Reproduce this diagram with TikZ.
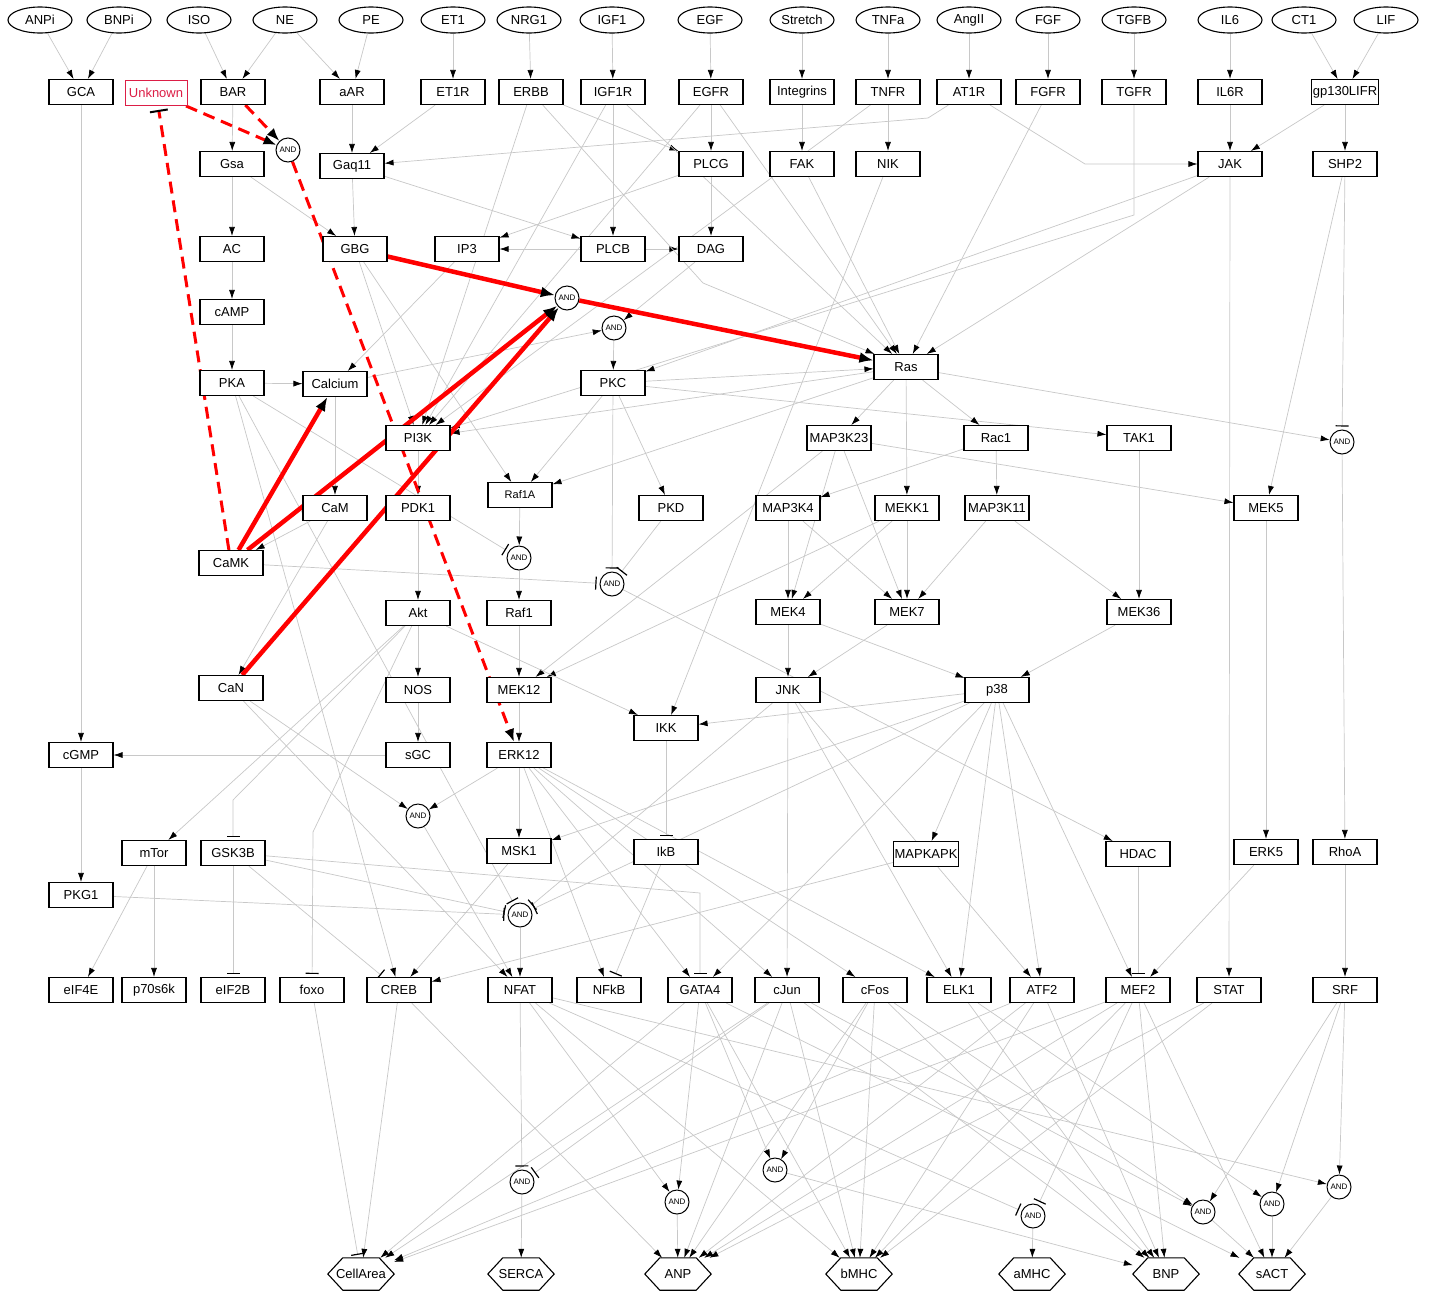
\documentclass[tikz,border=0pt]{standalone}
\usepackage{fontspec}
\setmainfont{Liberation Sans}
\usetikzlibrary{arrows.meta,shapes.geometric}
\definecolor{eg}{RGB}{200,200,200}
\definecolor{unk}{RGB}{220,30,70}
\pgfdeclarelayer{back}
\pgfdeclarelayer{edges}
\pgfsetlayers{back,edges,main}
\begin{document}
\begin{tikzpicture}[x=1pt,y=-1pt,
 lbl/.style={font=\fontsize{13}{14}\selectfont},
 box/.style={lbl,draw=black,line width=1.1pt,fill=white,minimum width=64pt,minimum height=25pt,inner sep=1pt},
 ell/.style={lbl,draw=black,ellipse,line width=1.1pt,fill=white,minimum width=64pt,minimum height=26pt,inner sep=0pt},
 andn/.style={draw=black,circle,line width=1pt,fill=white,minimum size=24pt,inner sep=0pt,font=\fontsize{8}{8}\selectfont},
 outn/.style={lbl,minimum width=66pt,minimum height=32pt,inner sep=0pt},
 e/.style={draw=eg,line width=0.7pt,-{Latex[color=black,length=9pt,width=6pt]}},
 ih/.style={draw=eg,line width=0.7pt,-{Bar[color=black,width=13pt,line width=1.2pt]},shorten >=3pt},
 rt/.style={draw=red,line width=4.5pt,-{Latex[color=black,length=14pt,width=11pt]}},
 rd/.style={draw=red,line width=3pt,dash pattern=on 12pt off 7pt,-{Latex[color=black,length=13pt,width=10pt]}},
 rdi/.style={draw=red,line width=3pt,dash pattern=on 12pt off 7pt,-{Bar[color=black,width=18pt,line width=2pt]},shorten >=4pt}
]
\useasboundingbox (0,0) rectangle (1429,1291);
\begin{pgfonlayer}{back}
\fill[white] (0,0) rectangle (1429,1291);
\end{pgfonlayer}
% inputs
\foreach \n/\x in {ANPi/40,BNPi/119,ISO/199,NE/285,PE/371,ET1/453,NRG1/529,IGF1/612,EGF/710,Stretch/802,TNFa/888,AngII/969,FGF/1048,TGFB/1134,IL6/1230,CT1/1304,LIF/1386}
 \node[ell] (\n) at (\x,20) {\n};
% receptors
\foreach \n/\x in {GCA/81,BAR/233,aAR/352,ET1R/453,ERBB/531,IGF1R/613,EGFR/711,Integrins/802,TNFR/888,AT1R/969,FGFR/1048,TGFR/1134,IL6R/1230,gp130LIFR/1345}
 \node[box] (\n) at (\x,92) {\n};
\node[box,draw=unk,text=unk,line width=0.9pt,minimum width=62pt] (Unknown) at (156,93) {Unknown};
% middle
\node[andn] (and1) at (288,150) {AND};
\node[box] (Gsa) at (232,164) {Gsa};
\node[box] (Gaq11) at (352,166) {Gaq11};
\node[box] (PLCG) at (711,164) {PLCG};
\node[box] (FAK) at (802,164) {FAK};
\node[box] (NIK) at (888,164) {NIK};
\node[box] (JAK) at (1230,164) {JAK};
\node[box] (SHP2) at (1345,164) {SHP2};
\node[box] (AC) at (232,249) {AC};
\node[box] (GBG) at (355,249) {GBG};
\node[box] (IP3) at (467,249) {IP3};
\node[box] (PLCB) at (613,249) {PLCB};
\node[box] (DAG) at (711,249) {DAG};
\node[andn] (and2) at (567,298) {AND};
\node[andn] (and3) at (614,328) {AND};
\node[box] (cAMP) at (232,312) {cAMP};
\node[box] (PKA) at (232,383) {PKA};
\node[box] (Calcium) at (335,384) {Calcium};
\node[box] (PKC) at (613,383) {PKC};
\node[box] (Ras) at (906,367) {Ras};
\node[box] (PI3K) at (418,438) {PI3K};
\node[box] (MAP3K23) at (839,438) {MAP3K23};
\node[box] (Rac1) at (996,438) {Rac1};
\node[box] (TAK1) at (1139,438) {TAK1};
\node[andn] (and4) at (1342,442) {AND};
\node[box,font=\fontsize{11}{12}\selectfont] (Raf1A) at (520,495) {Raf1A};
\node[box] (CaM) at (335,508) {CaM};
\node[box] (PDK1) at (418,508) {PDK1};
\node[box] (PKD) at (671,508) {PKD};
\node[box] (MAP3K4) at (788,508) {MAP3K4};
\node[box] (MEKK1) at (907,508) {MEKK1};
\node[box] (MAP3K11) at (997,508) {MAP3K11};
\node[box] (MEK5) at (1266,508) {MEK5};
\node[box] (CaMK) at (231,563) {CaMK};
\node[andn] (and5) at (519,558) {AND};
\node[andn] (and6) at (612,584) {AND};
\node[box] (Akt) at (418,613) {Akt};
\node[box] (Raf1) at (519,613) {Raf1};
\node[box] (MEK4) at (788,612) {MEK4};
\node[box] (MEK7) at (907,612) {MEK7};
\node[box] (MEK36) at (1139,612) {MEK36};
\node[box] (CaN) at (231,688) {CaN};
\node[box] (NOS) at (418,690) {NOS};
\node[box] (MEK12) at (519,690) {MEK12};
\node[box] (JNK) at (788,690) {JNK};
\node[box] (p38) at (997,690) {p38};
\node[box] (IKK) at (666,728) {IKK};
\node[box] (cGMP) at (81,755) {cGMP};
\node[box] (sGC) at (418,755) {sGC};
\node[box] (ERK12) at (519,755) {ERK12};
\node[andn] (and7) at (418,816) {AND};
\node[box] (mTor) at (154,853) {mTor};
\node[box] (GSK3B) at (233,853) {GSK3B};
\node[box] (MSK1) at (519,851) {MSK1};
\node[box] (IkB) at (666,852) {IkB};
\node[box] (MAPKAPK) at (926,854) {MAPKAPK};
\node[box] (HDAC) at (1138,854) {HDAC};
\node[box] (ERK5) at (1266,852) {ERK5};
\node[box] (RhoA) at (1345,852) {RhoA};
\node[box] (PKG1) at (81,895) {PKG1};
\node[andn] (and8) at (520,915) {AND};
% transcription row
\foreach \n/\x in {eIF4E/81,p70s6k/154,eIF2B/233,foxo/312,CREB/399,NFAT/520,NFkB/609,GATA4/700,cJun/787,cFos/875,ELK1/959,ATF2/1042,MEF2/1138,STAT/1229,SRF/1345}
 \node[box] (\n) at (\x,990) {\n};
\node[andn] (and9) at (522,1182) {AND};
\node[andn] (and10) at (677,1202) {AND};
\node[andn] (and11) at (775,1170) {AND};
\node[andn] (and12) at (1033,1216) {AND};
\node[andn] (and13) at (1203,1212) {AND};
\node[andn] (and14) at (1272,1204) {AND};
\node[andn] (and15) at (1339,1187) {AND};
% outputs
\foreach \n/\x in {CellArea/361,SERCA/521,ANP/678,bMHC/859,aMHC/1032,BNP/1166,sACT/1272}
 \node[outn] (\n) at (\x,1274) {\n};
\foreach \n in {CellArea,SERCA,ANP,bMHC,aMHC,BNP,sACT}
 \draw[line width=1.1pt] (\n.west) -- ([xshift=15pt]\n.north west) -- ([xshift=-15pt]\n.north east) -- (\n.east) -- ([xshift=-15pt]\n.south east) -- ([xshift=15pt]\n.south west) -- cycle;
% bend points
\coordinate (c1) at (928,118);
\coordinate (c2) at (1085,164);
\coordinate (c3) at (1134,215);
\coordinate (c4) at (703,283);
\coordinate (c5) at (233,800);
\coordinate (c6) at (313,832);
\coordinate (c7) at (700,893);
\begin{pgfonlayer}{edges}
\foreach \a/\b in {ANPi/GCA,BNPi/GCA,ISO/BAR,NE/BAR,NE/aAR,PE/aAR,ET1/ET1R,NRG1/ERBB,IGF1/IGF1R,EGF/EGFR,Stretch/Integrins,TNFa/TNFR,AngII/AT1R,FGF/FGFR,TGFB/TGFR,IL6/IL6R,CT1/gp130LIFR,LIF/gp130LIFR,
 GCA/cGMP,BAR/Gsa,aAR/Gaq11,ET1R/Gaq11,
 ERBB/PLCG,ERBB/PI3K,IGF1R/PLCB,IGF1R/PI3K,IGF1R/Ras,EGFR/PLCG,EGFR/PI3K,EGFR/Ras,
 Integrins/FAK,TNFR/NIK,TNFR/PI3K,FGFR/Ras,IL6R/JAK,gp130LIFR/JAK,gp130LIFR/SHP2,
 Gsa/AC,Gsa/GBG,Gaq11/GBG,Gaq11/PLCB,PLCG/IP3,PLCG/DAG,FAK/Ras,NIK/IKK,
 JAK/Ras,JAK/PKC,JAK/STAT,SHP2/MEK5,AC/cAMP,cAMP/PKA,GBG/PI3K,GBG/Raf1A,
 IP3/Calcium,PLCB/IP3,PLCB/DAG,DAG/and3,Calcium/and3,and3/PKC,PKA/Calcium,PKA/CREB,
 Calcium/CaM,PKC/Ras,PKC/Raf1A,PKC/PKD,PKC/TAK1,
 Ras/MAP3K23,Ras/Rac1,Ras/MEKK1,Ras/Raf1A,Ras/and4,Ras/PI3K,PI3K/PDK1,
 MAP3K23/MEK4,MAP3K23/MEK7,MAP3K23/MEK5,MAP3K23/MEK12,Rac1/MAP3K11,Rac1/MAP3K4,
 TAK1/MEK36,and4/RhoA,Raf1A/and5,CaM/CaMK,CaM/CaN,PDK1/Akt,
 MAP3K4/MEK4,MAP3K4/MEK7,MEKK1/MEK4,MEKK1/MEK7,MEKK1/MEK12,MAP3K11/MEK36,MAP3K11/MEK7,
 MEK5/ERK5,and5/Raf1,and6/HDAC,Akt/NOS,Akt/mTor,Akt/IKK,Raf1/MEK12,
 MEK4/JNK,MEK4/p38,MEK7/JNK,MEK36/p38,CaN/and7,CaN/NFAT,NOS/sGC,MEK12/ERK12,
 JNK/cJun,JNK/ELK1,JNK/ATF2,p38/IKK,p38/MSK1,p38/MAPKAPK,p38/ELK1,p38/ATF2,p38/MEF2,p38/GATA4,
 sGC/cGMP,ERK12/MSK1,ERK12/and7,ERK12/NFkB,ERK12/GATA4,ERK12/cJun,ERK12/cFos,ERK12/ELK1,
 cGMP/PKG1,and7/NFAT,mTor/eIF4E,mTor/p70s6k,MSK1/CREB,MAPKAPK/CREB,ERK5/MEF2,RhoA/SRF,and8/NFAT,
 CREB/CellArea,GATA4/CellArea,cJun/CellArea,ATF2/CellArea,MEF2/CellArea,
 and9/SERCA,
 CREB/ANP,and10/ANP,cJun/ANP,cFos/ANP,MEF2/ANP,STAT/ANP,ATF2/ANP,
 NFAT/and10,GATA4/and10,
 NFAT/bMHC,GATA4/bMHC,cJun/bMHC,cFos/bMHC,MEF2/bMHC,ATF2/bMHC,STAT/bMHC,
 and12/aMHC,
 and11/BNP,ELK1/BNP,ATF2/BNP,MEF2/BNP,cJun/BNP,cFos/BNP,
 GATA4/and11,cFos/and11,
 and13/sACT,and14/sACT,and15/sACT,MEF2/sACT,GATA4/sACT,
 cJun/and13,cFos/and13,SRF/and13,ELK1/and14,SRF/and14,NFAT/and15,SRF/and15}
 \draw[e] (\a) -- (\b);
\foreach \a/\b in {SHP2/and4,PKA/and5,PKC/and6,PKD/and6,CaMK/and6,IKK/IkB,GSK3B/eIF2B,GSK3B/CREB,GSK3B/and8,PKG1/and8,PKA/and8,JNK/and8,p38/and8,IkB/NFkB,HDAC/MEF2,foxo/CellArea,NFAT/and9,cJun/and9,NFAT/and12,MEF2/and12}
 \draw[ih] (\a) -- (\b);
\draw[e] (AT1R) -- (c1) -- (Gaq11);
\draw[e] (AT1R) -- (c2) -- (JAK);
\draw[e] (TGFR) -- (c3) -- (PI3K);
\draw[e] (ERBB) -- (c4) -- (Ras);
\draw[ih] (Akt) -- (c5) -- (GSK3B);
\draw[ih] (Akt) -- (c6) -- (foxo);
\draw[ih] (GSK3B) -- (c7) -- (GATA4);
% highlighted path
\draw[rt] (GBG) -- (and2);
\draw[rt] (CaMK) -- (Calcium);
\draw[rt] (CaMK) -- (and2);
\draw[rt] (CaN) -- (and2);
\draw[rt] (and2) -- (Ras);
\draw[rd] (Unknown) -- (and1);
\draw[rd] (BAR) -- (and1);
\draw[rd] (and1) -- (ERK12);
\draw[rdi] (CaMK) -- (Unknown);
\end{pgfonlayer}
\end{tikzpicture}
\end{document}
